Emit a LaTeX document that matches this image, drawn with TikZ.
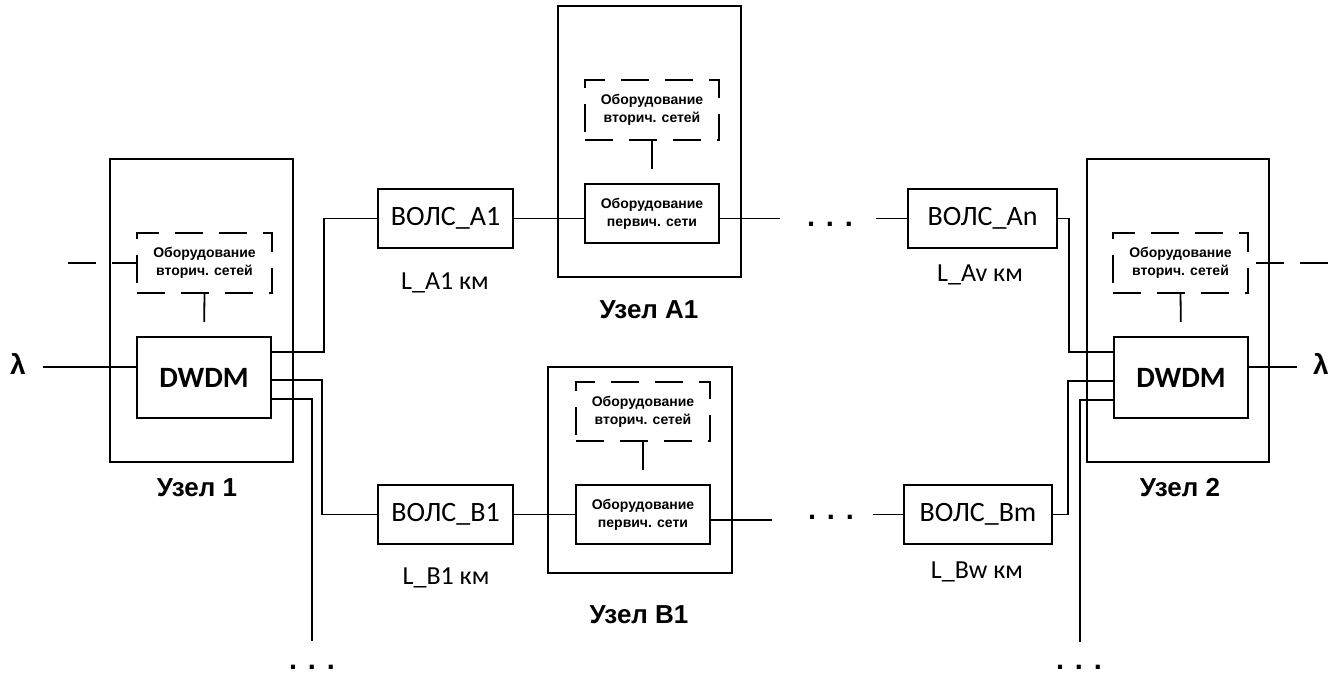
\documentclass[tikz,border=0pt]{standalone}
\usepackage{fontspec}
\setmainfont{Liberation Sans}
\newfontfamily\calfont{Carlito}
\usetikzlibrary{calc}
\begin{document}
\begin{tikzpicture}[x=1pt,y=-1pt,line width=1.8pt,
  outerbox/.style={draw,inner sep=0pt,minimum width=183pt},
  dashstyle/.style={dash pattern=on 28pt off 16pt},
  secbox/.style={draw,dashstyle,inner sep=0pt,minimum width=135pt,minimum height=60pt,align=center,font=\fontsize{14}{18}\selectfont\bfseries},
  primbox/.style={draw,inner sep=0pt,minimum width=134pt,minimum height=59pt,align=center,font=\fontsize{14}{18}\selectfont\bfseries},
  volc/.style={draw,inner sep=0pt,minimum height=59pt,font=\calfont\fontsize{28}{30}\selectfont},
  dwdmbox/.style={draw,inner sep=0pt,minimum width=134pt,minimum height=81pt,font=\calfont\bfseries\fontsize{29.5}{32}\selectfont},
  lbl/.style={font=\calfont\fontsize{26}{30}\selectfont},
  uzel/.style={font=\bfseries\fontsize{26}{30}\selectfont},
  lam/.style={font=\bfseries\fontsize{28}{30}\selectfont},
  dotsnode/.style={anchor=base,inner sep=0pt,font=\bfseries\fontsize{29}{30}\selectfont}
]
\useasboundingbox (0,0) rectangle (1340,673);

% ---- Node 1
\node[outerbox,minimum height=303pt] (o1) at (201.5,310.5) {};
\node[secbox] (s1) at (204.5,263) {Оборудование\\вторич. сетей};
\node[dwdmbox] (d1) at (204,377.5) {DWDM};
\node[uzel] (u1) at (197,488) {Узел 1};
\node[lam] (lamL) at (18,364) {λ};
\coordinate (lamLend) at (43,367);
\coordinate (dashL) at (68,263);

% ---- Node A1
\node[outerbox,minimum height=271pt] (oA) at (649.5,141.5) {};
\node[secbox,minimum width=134pt] (sA) at (652,110) {Оборудование\\вторич. сетей};
\node[primbox] (pA) at (652,213.5) {Оборудование\\первич. сети};
\node[uzel] (uA) at (649,310) {Узел A1};

% ---- Node B1
\node[outerbox,minimum width=184pt,minimum height=206pt] (oB) at (640,470) {};
\node[secbox,minimum width=134pt,minimum height=59pt] (sB) at (643,411.5) {Оборудование\\вторич. сетей};
\node[primbox] (pB) at (643,514.5) {Оборудование\\первич. сети};
\node[uzel] (uB) at (639,615) {Узел B1};

% ---- Node 2
\node[outerbox,minimum width=182pt,minimum height=303pt] (o2) at (1178,310.5) {};
\node[secbox] (s2) at (1180.5,263) {Оборудование\\вторич. сетей};
\node[dwdmbox] (d2) at (1181,377.5) {DWDM};
\node[uzel] (u2) at (1180,488) {Узел 2};
\node[lam] (lamR) at (1321,364) {λ};
\coordinate (lamRend) at (1297,367);
\coordinate (dashR) at (1328,263);

% ---- ВОЛС boxes
\node[volc,minimum width=135pt] (vA1) at (445.5,218.5) {ВОЛС\_A1};
\node[lbl] (lA1) at (445,283) {L\_A1 км};
\node[volc,minimum width=135pt] (vB1) at (445.5,514.5) {ВОЛС\_B1};
\node[lbl] (lB1) at (446,578) {L\_B1 км};
\node[volc,minimum width=149pt] (vAn) at (982.5,218.5) {ВОЛС\_An};
\node[lbl] (lAn) at (980,275) {L\_Av км};
\node[volc,minimum width=148pt] (vBm) at (978,514.5) {ВОЛС\_Bm};
\node[lbl] (lBm) at (977,572) {L\_Bw км};

% ---- dots
\node[dotsnode] (dotA) at (830,226) {. . .};
\node[dotsnode] (dotB) at (831,519) {. . .};
\node[dotsnode] (dotL) at (312,669) {. . .};
\node[dotsnode] (dotR) at (1079,669) {. . .};
\coordinate (aEnd) at (780,218.5);
\coordinate (aStart) at (876,218.5);
\coordinate (bEnd) at (772,520);
\coordinate (bStart) at (873,514.5);
\coordinate (lEnd) at (312,641);
\coordinate (rEnd) at (1080,642);

% ---- connectors, node 1
\draw (lamLend) -- (d1.west |- lamLend);
\draw[dashstyle] (dashL) -- (s1.west);
\draw[dashstyle] (s1.south) -- (d1.north);
\draw (d1.east |- 0,352) -| ($(vA1.west)+(-53,0)$) -- (vA1.west);
\draw (d1.east |- 0,380) -| ($(vB1.west)+(-55,0)$) -- (vB1.west);
\draw (d1.east |- 0,399) -| (lEnd);

% ---- node A1 chain
\draw (vA1.east) -- (vA1.east -| pA.west);
\draw[dashstyle] (sA.south) -- (pA.north);
\draw (pA.east |- aEnd) -- (aEnd);
\draw (aStart) -- (vAn.west);
\draw (vAn.east) -| (1069,352) -- (d2.west |- 0,352);

% ---- node B1 chain
\draw (vB1.east) -- (vB1.east -| pB.west);
\draw[dashstyle] (sB.south) -- (pB.north);
\draw (pB.east |- bEnd) -- (bEnd);
\draw (bStart) -- (vBm.west);
\draw (vBm.east) -| (1068,381) -- (d2.west |- 0,381);
\draw (d2.west |- 0,400) -| (rEnd);

% ---- node 2
\draw[dashstyle] (s2.south) -- (d2.north);
\draw[dashstyle] (dashR) -- (s2.east);
\draw (d2.east |- lamRend) -- (lamRend);
\end{tikzpicture}
\end{document}
